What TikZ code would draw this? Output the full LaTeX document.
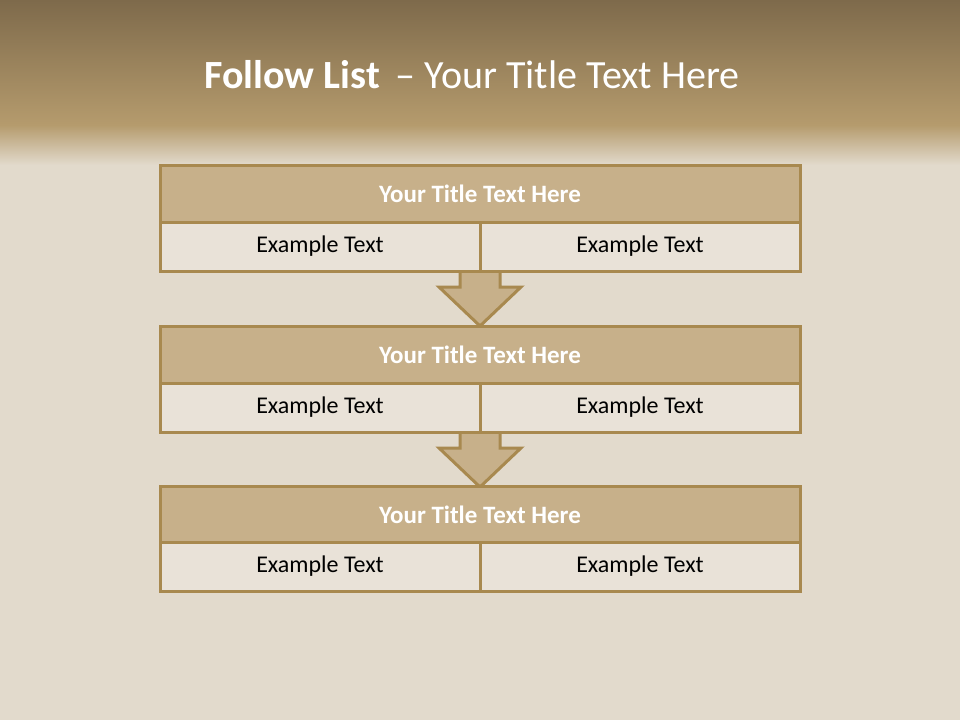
\documentclass[tikz,border=0pt]{standalone}
\usepackage{fontspec}
\setmainfont{Carlito}
\definecolor{bgbeige}{HTML}{E2DACC}
\definecolor{hdtop}{HTML}{7E6A4B}
\definecolor{hdbot}{HTML}{B59B6D}
\definecolor{edge}{HTML}{A8894F}
\definecolor{titlefill}{HTML}{C7B08A}
\definecolor{cellfill}{HTML}{E9E2D8}
\begin{document}
\begin{tikzpicture}[x=1pt,y=-1pt,
  titlebox/.style={draw=edge,line width=3pt,fill=titlefill,minimum width=640pt,minimum height=57pt,inner sep=0pt,text=white,font=\fontsize{25}{28}\selectfont\bfseries},
  cellbox/.style={draw=edge,line width=3pt,fill=cellfill,minimum width=320pt,minimum height=49pt,inner sep=0pt,text=black,font=\fontsize{24}{28}\selectfont},
  downarrow/.style={draw=edge,line width=3pt,fill=titlefill,line join=miter}]
\useasboundingbox (0,0) rectangle (960,720);
\fill[bgbeige] (0,0) rectangle (960,720);
\shade[top color=hdtop,bottom color=hdbot] (0,0) rectangle (960,125);
\shade[top color=hdbot,bottom color=bgbeige] (0,125) rectangle (960,165);
\node[font=\fontsize{40}{44}\selectfont,text=white] (maintitle) at (472,75) {\textbf{Follow List} \,– Your Title Text Here};
% arrows
\foreach \y/\n in {271/a1,432/a2}{
  \draw[downarrow] (460,\y) -- (500,\y) -- (500,\y+16) -- (521,\y+16) -- (480,\y+55) -- (439,\y+16) -- (460,\y+16) -- cycle;
}
% rows
\node[titlebox] (t1) at (480,193.5) {Your Title Text Here};
\node[cellbox] (c1l) at (320,246.5) {Example Text};
\node[cellbox] (c1r) at (640,246.5) {Example Text};
\node[titlebox] (t2) at (480,354.5) {Your Title Text Here};
\node[cellbox] (c2l) at (320,407.5) {Example Text};
\node[cellbox] (c2r) at (640,407.5) {Example Text};
\node[titlebox] (t3) at (480,514.5) {Your Title Text Here};
\node[cellbox] (c3l) at (320,566.5) {Example Text};
\node[cellbox] (c3r) at (640,566.5) {Example Text};
\end{tikzpicture}
\end{document}
